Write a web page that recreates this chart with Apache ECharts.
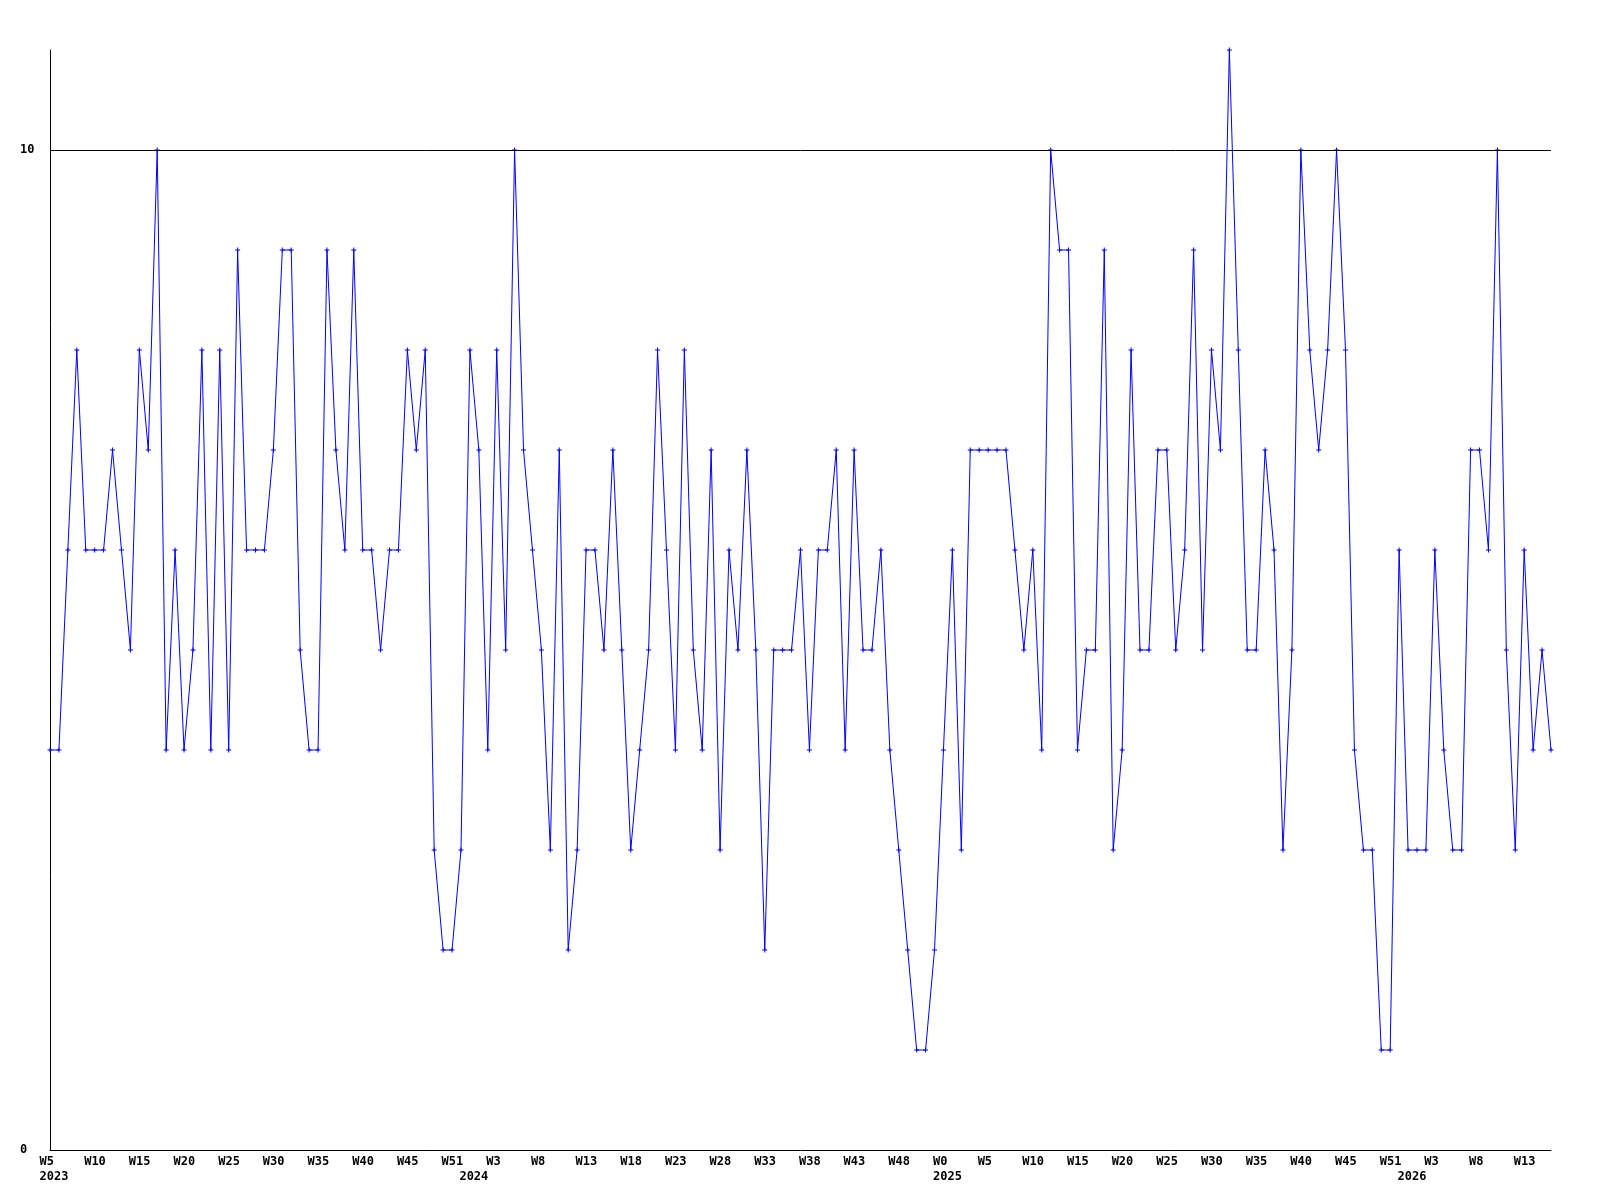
<!DOCTYPE html>
<html>
<head>
<meta charset="utf-8">
<script src="https://cdn.jsdelivr.net/npm/echarts@6/dist/echarts.min.js"></script>
<style>
  html, body { margin: 0; padding: 0; background: #fff; }
  #main { width: 1600px; height: 1200px; }
</style>
</head>
<body>
<div id="main"></div>
<script>
// weekly values, one per point (2023 W5 .. 2026 W16)
var values = [
  4,4,6,8,6,6,6,7,6,5, 8,7,10,4,6,4,5,8,4,8,
  4,9,6,6,6,7,9,9,5,4, 4,9,7,6,9,6,6,5,6,6,
  8,7,8,3,2,2,3,8,7,4, 8,5,10,7,6,5,3,7,2,3,
  6,6,5,7,5,3,4,5,8,6, 4,8,5,4,7,3,6,5,7,5,
  2,5,5,5,6,4,6,6,7,4, 7,5,5,6,4,3,2,1,1,2,
  4,6,3,7,7,7,7,7,6,5, 6,4,10,9,9,4,5,5,9,3,
  4,8,5,5,7,7,5,6,9,5, 8,7,11,8,5,5,7,6,3,5,
  10,8,7,8,10,8,4,3,3,1, 1,6,3,3,3,6,4,3,3,7,
  7,6,10,5,3,6,4,5,4
];

// week tick labels, one every 5 points
var weekLabels = [
  "W5","W10","W15","W20","W25","W30","W35","W40","W45","W51",
  "W3","W8","W13","W18","W23","W28","W33","W38","W43","W48",
  "W0","W5","W10","W15","W20","W25","W30","W35","W40","W45",
  "W51","W3","W8","W13"
];

// year labels and the point index they sit under
var yearIdx = [0, 47, 100, 152];
var years = ["2023", "2024", "2025", "2026"];

var categories = values.map(function (v, i) { return String(i); });

var font = {
  fontFamily: "DejaVu Sans Mono",
  fontWeight: "bold",
  fontSize: 12,
  color: "#000"
};

var chart = echarts.init(document.getElementById("main"), null, { renderer: "canvas" });

chart.setOption({
  animation: false,
  backgroundColor: "#fff",
  grid: { left: 50, right: 49, top: 50, bottom: 50, outerBoundsMode: "none" },
  xAxis: [
    {
      type: "category",
      data: categories,
      boundaryGap: false,
      position: "bottom",
      axisLine: { show: true, lineStyle: { color: "#000", width: 1 } },
      axisTick: { show: false },
      splitLine: { show: false },
      axisLabel: Object.assign({
        interval: 4,
        margin: 6,
        align: "left",
        padding: [0, 0, 0, -10.5],
        formatter: function (v, idx) { return weekLabels[idx / 5] || ""; }
      }, font)
    },
    {
      type: "category",
      data: categories,
      boundaryGap: false,
      position: "bottom",
      offset: 15,
      axisLine: { show: false },
      axisTick: { show: false },
      splitLine: { show: false },
      axisLabel: Object.assign({
        interval: function (idx) { return yearIdx.indexOf(idx) >= 0; },
        margin: 6,
        align: "left",
        padding: [0, 0, 0, -10.5],
        formatter: function (v, idx) {
          var k = yearIdx.indexOf(idx);
          return k >= 0 ? years[k] : "";
        }
      }, font)
    }
  ],
  yAxis: {
    type: "value",
    min: 0,
    max: 11,
    interval: 10,
    axisLine: { show: true, lineStyle: { color: "#000", width: 1 } },
    axisTick: { show: false },
    splitLine: { show: false },
    axisLabel: Object.assign({
      align: "left",
      margin: 30,
      formatter: function (v) { return (v === 0 || v === 10) ? String(v) : ""; }
    }, font)
  },
  series: [
    {
      type: "line",
      xAxisIndex: 0,
      data: values,
      showSymbol: true,
      showAllSymbol: true,
      symbol: "path://M2,0h1v2h2v1h-2v2h-1v-2h-2v-1h2z",
      symbolSize: 5,
      itemStyle: { color: "#0000ff" },
      lineStyle: { color: "#0000ff", width: 1 },
      markLine: {
        silent: true,
        symbol: "none",
        label: { show: false },
        lineStyle: { color: "#000", width: 1, type: "solid" },
        data: [{ yAxis: 10 }]
      }
    }
  ]
});
</script>
</body>
</html>
